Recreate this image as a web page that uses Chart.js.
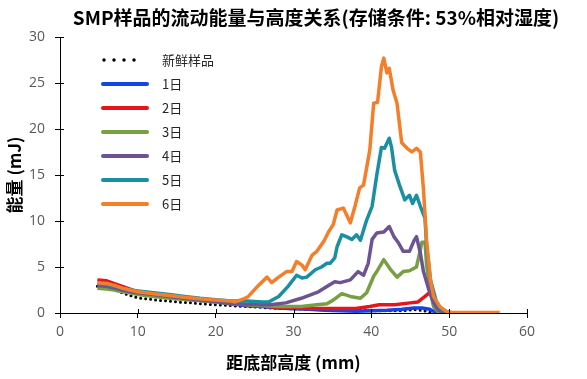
<!DOCTYPE html>
<html>
<head>
<meta charset="utf-8">
<script src="https://cdn.jsdelivr.net/npm/chart.js@4"></script>
<style>
html,body{margin:0;padding:0;background:#fff;}
#wrap{width:587px;height:379px;position:relative;}
</style>
</head>
<body>
<div id="wrap"><canvas id="c" width="587" height="379"></canvas></div>
<script>
// ---- data (height mm, energy mJ) ----
const chartTitle = 'SMP样品的流动能量与高度关系(存储条件: 53%相对湿度)';
const xAxisTitle = '距底部高度 (mm)';
const yAxisTitle = '能量 (mJ)';
const seriesLabels = ['新鲜样品', '1日', '2日', '3日', '4日', '5日', '6日'];
const xTicks = [0, 10, 20, 30, 40, 50, 60];
const yTicks = [0, 5, 10, 15, 20, 25, 30];

const fresh = [[4.8,2.9],[6,2.7],[7,2.5],[8,2.2],[9,1.9],[10,1.65],[11,1.55],[12,1.45],[13,1.35],[14,1.3],[15,1.2],[16,1.15],[17,1.1],[18,1.0],[19,0.95],[20,0.9],[22,0.8],[24,0.7],[26,0.6],[28,0.5],[30,0.45],[32,0.4],[34,0.35],[36,0.3],[38,0.3],[40,0.25],[42,0.25],[44,0.25],[45.5,0.35],[46.5,0.3],[47.5,0.1],[48,0]];
const day1 = [[4.8,3.0],[6,2.9],[7,2.7],[8,2.5],[9,2.3],[10,2.1],[12,1.9],[14,1.7],[16,1.5],[18,1.35],[20,1.2],[22,1.0],[24,0.8],[26,0.7],[28,0.55],[30,0.45],[32,0.4],[34,0.3],[36,0.25],[38,0.2],[40,0.25],[42,0.3],[44,0.4],[45.5,0.55],[46.5,0.55],[47.5,0.4],[48.3,0.05],[49,0]];
const day2 = [[4.8,3.6],[6,3.5],[7,3.2],[8,2.9],[9,2.6],[10,2.3],[12,2.0],[14,1.8],[16,1.6],[18,1.45],[20,1.3],[22,1.1],[24,0.9],[26,0.75],[28,0.6],[30,0.55],[32,0.5],[34,0.5],[36,0.5],[38,0.5],[39.8,0.7],[41,0.9],[43,0.9],[45,1.1],[46,1.2],[46.9,1.8],[47.6,2.3],[48,1.5],[48.5,0.3],[49,0.05],[50,0]];
const day3 = [[4.8,2.7],[6,2.6],[7,2.5],[8,2.3],[9,2.2],[10,2.0],[12,1.8],[14,1.6],[16,1.5],[18,1.35],[20,1.2],[22,1.0],[24,0.9],[26,0.8],[28,0.7],[30,0.7],[31,0.7],[33,0.9],[34.3,1.0],[35.1,1.4],[36.2,2.1],[37.3,1.8],[38.6,1.6],[39.4,2.2],[40.3,4.0],[40.7,4.5],[41.6,5.8],[42.4,4.8],[43.3,3.9],[44.1,4.5],[44.9,4.6],[45.8,5.0],[46.2,6.5],[46.5,7.7],[46.9,7.7],[47.1,5.2],[47.6,2.2],[48,0.7],[48.6,0.1],[49.5,0]];
const day4 = [[4.8,3.0],[6,2.9],[7,2.7],[8,2.5],[9,2.3],[10,2.2],[12,2.0],[14,1.8],[16,1.6],[18,1.4],[20,1.25],[22,1.0],[24,0.95],[26,0.9],[27,0.9],[29,1.1],[31,1.6],[33.2,2.3],[34.5,3.0],[35.3,3.4],[36,3.3],[37.3,3.6],[38.3,4.5],[39,4.1],[39.6,5.4],[40.1,8.0],[40.7,8.7],[41.6,8.8],[42.3,9.4],[42.9,8.3],[43.5,7.6],[44.1,6.7],[44.9,6.7],[45.5,7.9],[45.8,8.3],[46.3,6.5],[46.7,4.5],[47.4,2.5],[48,1.1],[48.6,0.3],[49.5,0]];
const day5 = [[4.8,3.2],[6,3.1],[7,2.9],[8,2.7],[9,2.5],[10,2.4],[12,2.2],[14,2.0],[16,1.8],[18,1.6],[20,1.45],[22,1.3],[24,1.3],[26,1.2],[26.8,1.2],[28.1,1.8],[29.3,2.9],[30.4,4.1],[31.1,3.8],[31.7,3.9],[32.8,4.7],[33.6,5.0],[34.3,5.4],[34.7,5.4],[35.3,6.0],[35.6,7.2],[36.2,8.5],[36.8,8.3],[37.5,8.0],[38.1,8.5],[38.6,7.9],[39.4,10.1],[40.1,11.6],[40.7,15.0],[41.3,18.0],[41.7,17.9],[42.3,19.0],[42.6,18.0],[43,15.5],[43.7,13.7],[44.3,12.3],[44.9,12.8],[45.3,11.9],[45.8,12.8],[46.3,11.6],[46.9,10.3],[47.1,7.2],[47.6,3.6],[48.4,1.1],[49,0.4],[49.7,0.1],[50.5,0]];
const day6 = [[4.8,3.3],[6,3.2],[7,3.0],[8,2.7],[9,2.5],[10,2.3],[12,2.1],[14,1.9],[16,1.7],[18,1.55],[20,1.4],[22,1.3],[22.5,1.2],[23.5,1.5],[24.2,1.8],[25.5,3.0],[26.6,3.9],[27.2,3.3],[28.1,3.9],[29.1,4.5],[29.8,4.5],[30.4,5.6],[31.1,5.2],[31.5,4.7],[32.4,6.3],[33,6.7],[33.9,7.8],[34.5,8.8],[35.1,9.6],[35.6,11.2],[36.4,11.4],[37.3,9.8],[37.9,11.6],[38.5,13.6],[39,13.9],[39.8,17.7],[40.3,22.8],[40.8,22.9],[41.3,26.8],[41.6,27.7],[42,26.1],[42.3,26.6],[42.8,24.2],[43.3,22.8],[43.9,18.5],[44.6,17.9],[45.2,17.5],[45.8,17.9],[46.3,17.5],[46.7,13.4],[47.1,7.9],[47.6,3.6],[48,1.8],[48.8,0.7],[49.7,0.15],[50.5,0.05],[56.5,0.05]];

const seriesData = [fresh, day1, day2, day3, day4, day5, day6];
const seriesColors = ['#000000', '#1444E6', '#E8141C', '#76A043', '#6E5394', '#1A8FA3', '#F47E2A'];

const FONT_CJK = '"Noto Sans CJK SC", "Noto Sans", sans-serif';
const FONT_TICK = '"Open Sans", "Noto Sans", sans-serif';

const datasets = seriesData.map((pts, i) => ({
  label: seriesLabels[i],
  data: pts.map(p => ({x: p[0], y: p[1]})),
  borderColor: seriesColors[i],
  backgroundColor: seriesColors[i],
  borderWidth: i === 0 ? 3 : 3.5,
  borderDash: i === 0 ? [0, 5] : [],
  borderCapStyle: i === 0 ? 'round' : 'butt',
  borderJoinStyle: 'round',
  pointRadius: 0,
  tension: 0,
  fill: false,
  order: seriesData.length - 1 - i
}));

const extras = {
  id: 'extras',
  afterDatasetsDraw(chart) {
    const ctx = chart.ctx;
    const xs = chart.scales.x, ys = chart.scales.y;
    const area = chart.chartArea;
    ctx.save();
    // inner halves of crossing tick marks
    ctx.strokeStyle = '#000';
    ctx.lineWidth = 1;
    ctx.beginPath();
    xTicks.forEach(v => {
      const px = Math.round(xs.getPixelForValue(v)) + 0.5;
      ctx.moveTo(px, area.bottom);
      ctx.lineTo(px, area.bottom - 4);
    });
    yTicks.forEach(v => {
      const py = Math.round(ys.getPixelForValue(v)) + 0.5;
      ctx.moveTo(area.left, py);
      ctx.lineTo(area.left + 4, py);
    });
    ctx.stroke();

    // legend
    const lx0 = 103, lx1 = 147, tx = 162, y0 = 60, dy = 24;
    chart.data.datasets.forEach((ds, i) => {
      const y = y0 + i * dy;
      ctx.beginPath();
      ctx.strokeStyle = ds.borderColor;
      ctx.lineWidth = i === 0 ? 3.5 : 4;
      ctx.lineCap = 'round';
      ctx.setLineDash(i === 0 ? [0, 10] : []);
      ctx.moveTo(lx0 + (i === 0 ? 1 : 0), y);
      ctx.lineTo(i === 0 ? lx0 + 41 : lx1, y);
      ctx.stroke();
      ctx.setLineDash([]);
      ctx.fillStyle = '#262626';
      ctx.font = '13px ' + FONT_CJK;
      ctx.textAlign = 'left';
      ctx.textBaseline = 'middle';
      ctx.fillText(ds.label, tx, y);
    });

    // chart title
    ctx.fillStyle = '#000';
    ctx.font = 'bold 19px ' + FONT_CJK;
    ctx.textAlign = 'center';
    ctx.textBaseline = 'middle';
    ctx.fillText(chartTitle, 316, 18);
    ctx.restore();
  }
};

new Chart(document.getElementById('c'), {
  type: 'line',
  data: { datasets },
  plugins: [extras],
  options: {
    responsive: false,
    animation: false,
    devicePixelRatio: 1,
    layout: { padding: { top: 37, right: 60, left: 0, bottom: 0 } },
    plugins: { legend: { display: false }, title: { display: false }, tooltip: { enabled: false } },
    scales: {
      x: {
        type: 'linear',
        min: 0, max: 60,
        afterBuildTicks: s => { s.ticks = xTicks.map(v => ({ value: v })); },
        afterFit: s => { s.height = 66; },
        grid: { drawOnChartArea: false, drawTicks: true, tickLength: 5, color: '#000', lineWidth: 1 },
        border: { color: '#000', width: 1 },
        ticks: { color: '#595959', font: { family: FONT_TICK, size: 14 }, padding: 6, maxRotation: 0 },
        title: { display: true, text: xAxisTitle, color: '#000', font: { family: FONT_CJK, size: 17, weight: 'bold' }, padding: { top: 4, bottom: 6 } }
      },
      y: {
        type: 'linear',
        min: 0, max: 30,
        afterBuildTicks: s => { s.ticks = yTicks.map(v => ({ value: v })); },
        afterFit: s => { s.width = 60; },
        grid: { drawOnChartArea: false, drawTicks: true, tickLength: 5, color: '#000', lineWidth: 1 },
        border: { color: '#000', width: 1 },
        ticks: { color: '#595959', font: { family: FONT_TICK, size: 14 }, padding: 10 },
        title: { display: true, text: yAxisTitle, color: '#000', font: { family: FONT_CJK, size: 17, weight: 'bold' }, padding: { top: 4, bottom: 4 } }
      }
    }
  }
});
</script>
</body>
</html>
